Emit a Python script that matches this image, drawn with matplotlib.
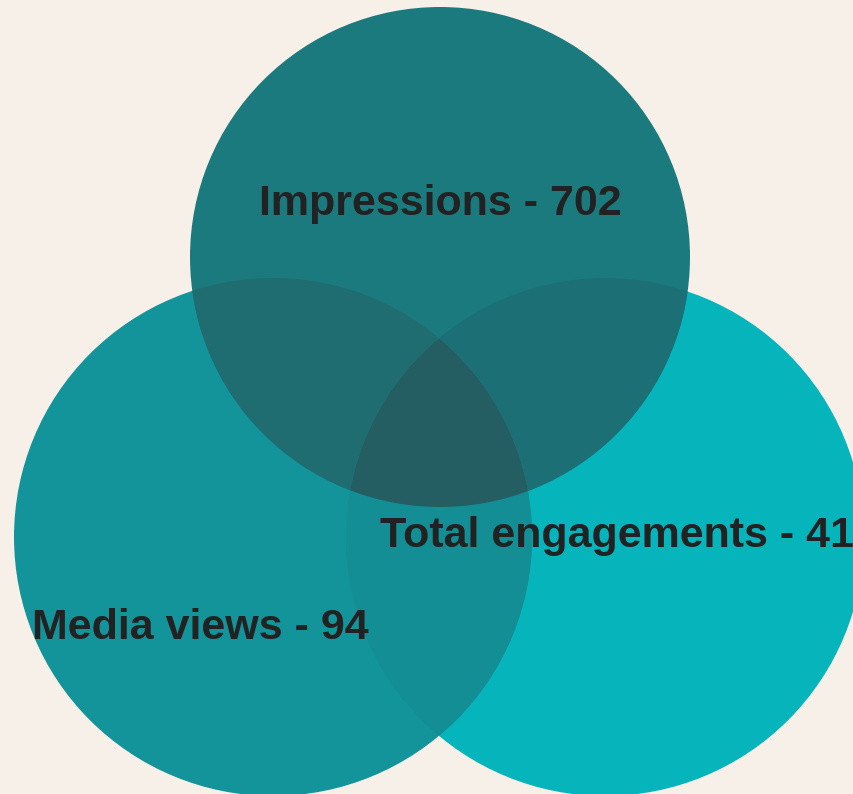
import numpy as np
import matplotlib.pyplot as plt
from matplotlib.patches import Circle, PathPatch
from matplotlib.path import Path

# --- data ---
sets = ['Impressions', 'Media views', 'Total engagements']
values = [702, 94, 41]

# circle geometry in pixel space (x, y from top, radius)
centers = [(440, 257), (273, 537), (605, 537)]
radii = [250, 259, 259]
# colours of each region (single sets, pairs, all three)
solo_colors = ['#1b7a7e', '#13939a', '#06b4bc']
pair_colors = {(0, 1): '#1f6d71', (0, 2): '#1c7075', (1, 2): '#128e94'}
triple_color = '#245d62'
label_pos = [(440, 204), (200, 628), (617, 536)]

BG = '#f7f0e8'

fig = plt.figure(figsize=(8.54, 7.94), dpi=100, facecolor=BG)
ax = fig.add_axes([0, 0, 1, 1])
ax.set_facecolor(BG)
ax.set_xlim(0, 854)
ax.set_ylim(794, 0)
ax.set_aspect('equal')
ax.axis('off')


def circ(i, **kw):
    return Circle(centers[i], radii[i], edgecolor='none', **kw)


def lens_path(i, j, n=720):
    # polygon of the overlap of circles i and j
    pts = []
    for a, b in [(i, j), (j, i)]:
        t = np.linspace(0, 2 * np.pi, n)
        x = centers[a][0] + radii[a] * np.cos(t)
        y = centers[a][1] + radii[a] * np.sin(t)
        inside = (x - centers[b][0]) ** 2 + (y - centers[b][1]) ** 2 <= radii[b] ** 2
        pts.append(np.column_stack([x[inside], y[inside]]))
    pts = np.vstack(pts)
    c = pts.mean(axis=0)
    order = np.argsort(np.arctan2(pts[:, 1] - c[1], pts[:, 0] - c[0]))
    pts = pts[order]
    return Path(np.vstack([pts, pts[:1]]), closed=True)


# single circles
for i in [2, 1, 0]:
    ax.add_patch(circ(i, facecolor=solo_colors[i]))

# pairwise overlaps
for (i, j), col in pair_colors.items():
    p = ax.add_patch(circ(i, facecolor=col))
    clip = circ(j, facecolor='none')
    ax.add_patch(clip)
    p.set_clip_path(clip)

# triple overlap
tp = ax.add_patch(PathPatch(lens_path(1, 2), facecolor=triple_color, edgecolor='none'))
clip0 = circ(0, facecolor='none')
ax.add_patch(clip0)
tp.set_clip_path(clip0)

for name, val, (x, y) in zip(sets, values, label_pos):
    ax.text(x, y, f'{name} - {val}', ha='center', va='center',
            fontsize=31, fontweight='bold', color='#222222',
            family='Liberation Sans')

fig.savefig('out.png', dpi=100, facecolor=BG)
